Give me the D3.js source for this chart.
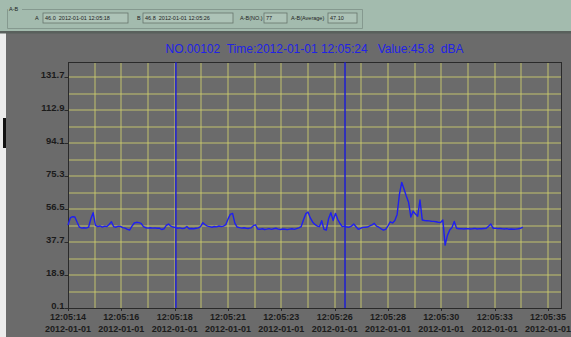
<!DOCTYPE html>
<html>
<head>
<meta charset="utf-8">
<script src="https://cdn.jsdelivr.net/npm/d3@7"></script>
<style>
  html, body { margin: 0; padding: 0; background: #ececec; }
  svg { display: block; font-family: "Liberation Sans", Arial, sans-serif; }
</style>
</head>
<body>
<svg id="chart"></svg>
<script>
// sound level trace, A-B cursor window

let width = 571, height = 337;

// time axis labels (one every 21/9 s)
const timeLabels = ["12:05:14", "12:05:16", "12:05:18", "12:05:21", "12:05:23",
                    "12:05:26", "12:05:28", "12:05:30", "12:05:33", "12:05:35"];
const dateLabel = "2012-01-01";
const yTicks = [0.1, 18.9, 37.7, 56.5, 75.3, 94.1, 112.9, 131.7];

// cursors (seconds after 12:05:14)
const cursorA = 4.72, cursorB = 12.12;

// header fields
const fieldA = "46.0  2012-01-01 12:05:18";
const fieldB = "46.8  2012-01-01 12:05:26";
const fieldNo = "77";
const fieldAvg = "47.10";
const title = "NO.00102  Time:2012-01-01 12:05:24   Value:45.8  dBA";

// dBA, one sample per 0.1 s from 12:05:14
const levels = [
  47.4, 51.5, 52.2, 52.0, 49.0, 46.2, 45.7, 45.9, 45.7, 46.2,
  51.0, 54.5, 47.2, 46.6, 46.9, 46.3, 46.8, 46.6, 47.8, 49.3,
  46.5, 46.2, 46.8, 46.6, 46.0, 45.7, 45.0, 44.6, 46.8, 48.6,
  49.0, 48.8, 48.4, 46.5, 45.9, 45.7, 45.9, 45.7, 45.8, 45.6,
  45.7, 44.9, 45.3, 47.2, 48.0, 46.8, 46.3, 46.0, 45.6, 45.8,
  45.4, 45.6, 46.6, 45.3, 45.5, 45.3, 45.6, 45.8, 46.5, 48.8,
  47.6, 46.8, 46.5, 46.2, 46.6, 46.4, 46.9, 46.6, 46.8, 47.6,
  50.8, 53.5, 54.1, 48.5, 46.3, 46.0, 45.7, 45.9, 45.6, 45.5,
  45.8, 46.9, 47.6, 45.2, 45.0, 45.3, 44.9, 45.1, 45.4, 45.0,
  45.3, 45.6, 45.1, 44.9, 45.2, 45.0, 44.8, 45.1, 45.3, 45.0,
  45.4, 45.8, 46.5, 50.3, 53.8, 54.9, 51.5, 49.2, 47.8, 46.9,
  46.5, 49.9, 45.0, 44.6, 51.0, 54.5, 50.0, 54.1, 50.7, 48.3,
  46.5, 46.8, 46.3, 46.2, 46.8, 48.0, 46.5, 45.0, 45.6, 46.1,
  46.2, 46.3, 46.9, 47.5, 48.4, 46.8, 46.2, 45.3, 44.6, 45.0,
  47.0, 49.3, 48.6, 50.0, 53.5, 65.0, 71.8, 68.0, 64.0, 60.5,
  52.0, 55.3, 53.7, 52.5, 61.7, 50.3, 50.0, 49.9, 49.8, 49.6,
  49.5, 49.3, 49.0, 48.9, 50.3, 36.0, 41.5, 44.6, 46.0, 49.5,
  45.6, 45.3, 45.4, 45.2, 45.3, 45.4, 45.2, 45.3, 45.5, 45.2,
  45.4, 45.3, 45.5, 45.6, 46.8, 48.0, 45.6, 45.7, 45.4, 45.5,
  45.3, 45.2, 45.4, 45.0, 45.2, 45.0, 45.1, 45.3, 45.6, 46.3
];
const dt = 0.1;

let svg = d3.select("#chart").attr("width", width).attr("height", height);

// backgrounds
svg.append("rect").attr("x", 0).attr("y", 0).attr("width", width).attr("height", height).attr("fill", "#ececec");
svg.append("rect").attr("x", 6).attr("y", 33).attr("width", width - 6).attr("height", height - 33).attr("fill", "#6b6b6b");
svg.append("rect").attr("x", 3).attr("y", 118).attr("width", 3).attr("height", 30).attr("fill", "#111");
svg.append("rect").attr("x", 0).attr("y", 0).attr("width", width).attr("height", 31).attr("fill", "#a3bbae");
svg.append("rect").attr("x", 0).attr("y", 31).attr("width", width).attr("height", 2.5).attr("fill", "#59605c");

// header group box
let hdr = svg.append("g").style("font-size", "5.5px").attr("fill", "#222");
hdr.append("path").attr("d", "M7.5,9.5 H8 M22,9.5 H362.5 V28.5 H7.5 V9.5")
  .attr("fill", "none").attr("stroke", "#7e9186").attr("stroke-width", 0.8);
hdr.append("text").attr("x", 9).attr("y", 11).text("A-B");

const boxes = [
  {label: "A", lx: 35, x: 43, w: 85, val: fieldA},
  {label: "B", lx: 137, x: 143, w: 90, val: fieldB},
  {label: "A-B(NO.)", lx: 240, x: 264, w: 23, val: fieldNo},
  {label: "A-B(Average)", lx: 291, x: 328, w: 29, val: fieldAvg}
];
hdr.selectAll(".lbl").data(boxes).enter().append("text")
  .attr("x", d => d.lx).attr("y", 20).text(d => d.label);
hdr.selectAll(".box").data(boxes).enter().append("rect")
  .attr("x", d => d.x).attr("y", 13).attr("width", d => d.w).attr("height", 10)
  .attr("fill", "#adc3b7").attr("stroke", "#66756d").attr("stroke-width", 0.8);
hdr.selectAll(".val").data(boxes).enter().append("text")
  .attr("x", d => d.x + 2).attr("y", 20).style("white-space", "pre").text(d => d.val);

// scales
let plotL = 68, plotR = 561.7, plotT = 62.3, plotB = 308;
let x = d3.scaleLinear().domain([0, 21.6]).range([plotL, plotR]);
let y = d3.scaleLinear().domain([0.1, 140.3]).range([plotB, plotT]);

// title
svg.append("text").attr("x", 314.5).attr("y", 52.5).attr("text-anchor", "middle")
  .style("font-size", "12px").style("white-space", "pre").attr("fill", "#2222e6")
  .text(title);

// grid (soft lines, like the screenshot)
let tickStep = 21 / 9;
let vGrid = d3.range(1, 19).map(k => k * tickStep / 2);
let hGrid = d3.range(1, 15).map(k => 0.1 + k * 9.4);
let grid = svg.append("g").attr("stroke", "#cccc6e").attr("stroke-width", 0.9);
grid.selectAll(".v").data(vGrid).enter().append("line")
  .attr("x1", d => Math.round(x(d))).attr("x2", d => Math.round(x(d)))
  .attr("y1", plotT).attr("y2", plotB);
grid.selectAll(".h").data(hGrid).enter().append("line")
  .attr("y1", d => Math.round(y(d))).attr("y2", d => Math.round(y(d)))
  .attr("x1", plotL).attr("x2", plotR);

// frame
svg.append("rect").attr("x", plotL + 0.5).attr("y", plotT + 0.5)
  .attr("width", plotR - plotL - 1).attr("height", plotB - plotT)
  .attr("fill", "none").attr("stroke", "#2a2a2a").attr("stroke-width", 1)
  .attr("shape-rendering", "crispEdges");

// cursors
svg.selectAll(".cursor").data([cursorA, cursorB]).enter().append("line")
  .attr("x1", d => x(d)).attr("x2", d => x(d))
  .attr("y1", plotT).attr("y2", plotB)
  .attr("stroke", "#1e1ed2").attr("stroke-width", 1.5);

// trace
let line = d3.line().x((d, i) => x(i * dt)).y(d => y(d));
svg.append("path").datum(levels).attr("d", line)
  .attr("fill", "none").attr("stroke", "#1f1ff0").attr("stroke-width", 1.4)
  .attr("stroke-linejoin", "round");

// y axis
let yAxis = svg.append("g").style("font-size", "9.5px").style("font-weight", "bold").attr("fill", "#1b1b1b");
yAxis.selectAll("text").data(yTicks).enter().append("text")
  .attr("x", 64.5).attr("y", d => y(d) + 1).attr("text-anchor", "end")
  .text(d => d.toFixed(1));
yAxis.selectAll("line").data(yTicks).enter().append("line")
  .attr("x1", 64.5).attr("x2", plotL).attr("y1", d => Math.round(y(d)) + 0.5).attr("y2", d => Math.round(y(d)) + 0.5)
  .attr("stroke", "#2a2a2a");

// x axis
let xAxis = svg.append("g").style("font-size", "9px").style("font-weight", "bold").attr("fill", "#1b1b1b");
xAxis.selectAll(".t").data(timeLabels).enter().append("text")
  .attr("x", (d, i) => x(i * tickStep)).attr("y", 320).attr("text-anchor", "middle").text(d => d);
xAxis.selectAll(".d").data(timeLabels).enter().append("text")
  .attr("x", (d, i) => x(i * tickStep)).attr("y", 332).attr("text-anchor", "middle").text(dateLabel);
xAxis.selectAll("line").data(timeLabels).enter().append("line")
  .attr("x1", (d, i) => Math.round(x(i * tickStep)) + 0.5).attr("x2", (d, i) => Math.round(x(i * tickStep)) + 0.5)
  .attr("y1", plotB).attr("y2", plotB + 3).attr("stroke", "#2a2a2a");
</script>
</body>
</html>
